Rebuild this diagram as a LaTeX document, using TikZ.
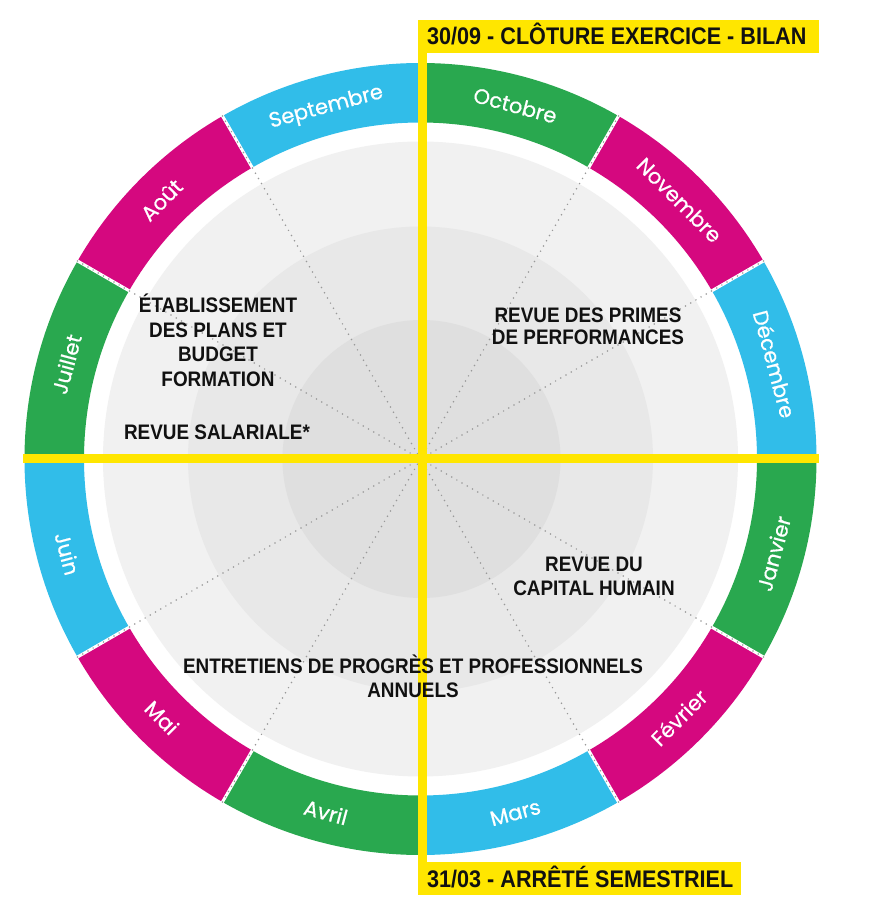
\documentclass[tikz,border=0pt]{standalone}
\usepackage{fontspec}
\newfontfamily\labfont{Liberation Sans}[FakeStretch=0.9]
\newfontfamily\monthfont{Poppins}[FakeBold=0.6]
\definecolor{mgreen}{HTML}{29A84F}
\definecolor{mmag}{HTML}{D5087F}
\definecolor{mcyan}{HTML}{31BDE9}
\definecolor{axisyellow}{RGB}{255,230,0}
\definecolor{gone}{HTML}{F1F1F1}
\definecolor{gtwo}{HTML}{E8E8E8}
\definecolor{gthree}{HTML}{DFDFDF}
\definecolor{dotgray}{HTML}{999999}
\definecolor{txt}{HTML}{111111}
\newcommand\blocklines[2]{{\fontsize{21}{#1}\selectfont\begin{tabular}[t]{@{}c@{}}#2\end{tabular}}}
\begin{document}
\begin{tikzpicture}[x=1pt,y=1pt,
  ringlab/.style={font=\monthfont\fontsize{21}{21}\selectfont, text=white, inner sep=0pt, text height=15pt, text depth=0pt},
  boldlab/.style={font=\labfont\bfseries\fontsize{21}{24}\selectfont, text=txt, inner sep=0pt, anchor=base},
  bannertext/.style={font=\labfont\bfseries\fontsize{24}{24}\selectfont, text=txt, inner sep=0pt, anchor=base west},
  sepline/.style={white, line width=3pt},
  dots/.style={draw=dotgray, line width=1.7pt, line cap=round, dash pattern=on 0pt off 6pt},
  yband/.style={fill=axisyellow}]
\useasboundingbox (-420.5,-453) rectangle (451.5,459);
\fill[white] (-420.5,-453) rectangle (451.5,459);
\coordinate (c) at (0,0);
% ring segments
\foreach \a/\col in {75/mgreen,45/mmag,15/mcyan,-15/mgreen,-45/mmag,-75/mcyan,-105/mgreen,-135/mmag,-165/mcyan,165/mgreen,135/mmag,105/mcyan}
  \fill[\col] (\a+15:396) arc[start angle=\a+15, end angle=\a-15, radius=396] -- (\a-15:336.5) arc[start angle=\a-15, end angle=\a+15, radius=336.5] -- cycle;
% discs
\fill[gone] (c) circle[radius=317.5];
\fill[gtwo] (c) circle[radius=232.5];
\fill[gthree] (1,0) circle[radius=139];
% separators and dotted radii
\foreach \a in {0,30,...,330} {
  \coordinate (r\a) at (\a:396);
  \draw[sepline] (\a:334) -- (\a:398);
  \draw[dots] (c) -- (r\a);
}
% month labels
\foreach \a/\m/\r [count=\i] in {75/Octobre/-15,45/Novembre/-45,15/Décembre/-75,-15/Janvier/75,-45/Février/45,-75/Mars/15,-105/Avril/-15,-135/Mai/-45,-165/Juin/-75,165/Juillet/75,135/Août/45,105/Septembre/15}
  \node[ringlab, rotate=\r] (month\i) at (\a:366) {\m};
% yellow axes and banners
\path[yband] (-2.5,-403) rectangle (6.5,439);
\path[yband] (-397.5,-4) rectangle (398.5,5);
\path[yband] (-2.5,406) rectangle (398.5,439);
\path[yband] (-2.5,-436) rectangle (320.5,-403);
\node[bannertext] (toplab) at (6.5,414.5) {30/09 - CLÔTURE EXERCICE - BILAN};
\node[bannertext] (botlab) at (6.5,-428) {31/03 - ARRÊTÉ SEMESTRIEL};
% central texts
\node[boldlab] (etab) at (-202.5,146) {\blocklines{24.5}{ÉTABLISSEMENT\\DES PLANS ET\\BUDGET\\FORMATION}};
\node[boldlab] (salar) at (-203.5,19) {REVUE SALARIALE*};
\node[boldlab] (primes) at (167.5,136) {\blocklines{22}{REVUE DES PRIMES\\DE PERFORMANCES}};
\node[boldlab] (capital) at (173.5,-113) {\blocklines{24}{REVUE DU\\CAPITAL HUMAIN}};
\node[boldlab] (entret) at (-7.5,-214) {\blocklines{24}{ENTRETIENS DE PROGRÈS ET PROFESSIONNELS\\ANNUELS}};
\end{tikzpicture}
\end{document}
